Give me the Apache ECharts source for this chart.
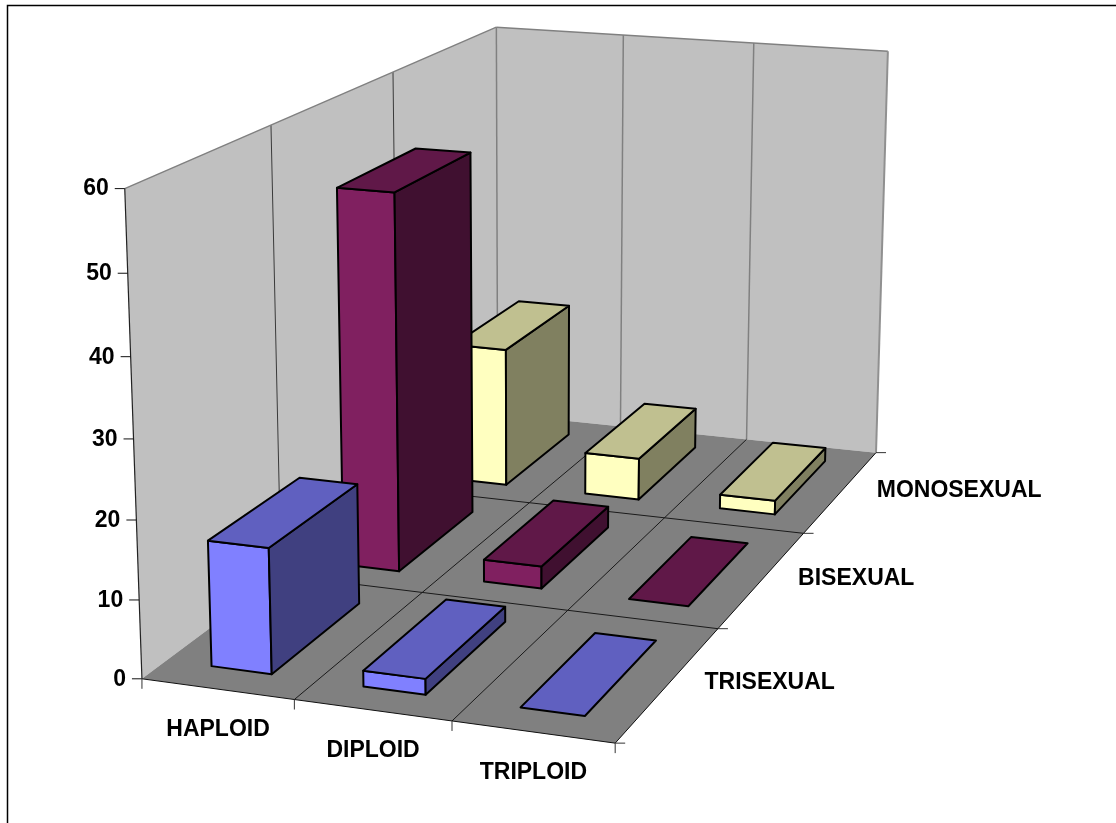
<!DOCTYPE html>
<html>
<head>
<meta charset="utf-8">
<style>html,body{margin:0;padding:0;background:#fff}#chart{width:1116px;height:823px}</style>
<script src="https://cdn.jsdelivr.net/npm/echarts@6/dist/echarts.min.js"></script>
</head>
<body>
<div id="chart"></div>
<script>
// Chart data
const categories = ['HAPLOID', 'DIPLOID', 'TRIPLOID'];
const rows = ['TRISEXUAL', 'BISEXUAL', 'MONOSEXUAL'];
const trisexual = [16, 2, 0];
const bisexual = [51, 3, 0];
const monosexual = [20, 6, 2];
const valueTicks = [0, 10, 20, 30, 40, 50, 60];

// Face colours of each row: front, top, side
const palettes = {
  TRISEXUAL: ['#8080FF', '#6060C0', '#404080'],
  BISEXUAL: ['#802060', '#601848', '#401030'],
  MONOSEXUAL: ['#FFFFC0', '#C0C090', '#808060']
};

// Perspective camera fitted to known places of the chart box:
// [category position, row position, value, screen x, screen y]
const cameraAnchors = [
  [0, 0, 0, 142, 679], [1, 0, 0, 294, 699], [2, 0, 0, 452, 721], [3, 0, 0, 616, 743],
  [3, 1, 0, 717, 629], [3, 2, 0, 804, 533], [3, 3, 0, 876, 453],
  [0, 0, 60, 124, 189], [0, 1, 60, 272, 125], [0, 2, 60, 393, 72], [0, 3, 60, 496, 27],
  [1, 3, 60, 624, 35], [2, 3, 60, 753, 43], [3, 3, 60, 888, 51]
];

function solve(A, b) {
  const n = b.length;
  for (let i = 0; i < n; i++) {
    let p = i;
    for (let r = i + 1; r < n; r++) if (Math.abs(A[r][i]) > Math.abs(A[p][i])) p = r;
    [A[i], A[p]] = [A[p], A[i]];
    [b[i], b[p]] = [b[p], b[i]];
    for (let r = i + 1; r < n; r++) {
      const f = A[r][i] / A[i][i];
      for (let c = i; c < n; c++) A[r][c] -= f * A[i][c];
      b[r] -= f * b[i];
    }
  }
  const x = new Array(n).fill(0);
  for (let i = n - 1; i >= 0; i--) {
    let s = b[i];
    for (let c = i + 1; c < n; c++) s -= A[i][c] * x[c];
    x[i] = s / A[i][i];
  }
  return x;
}

function fitCamera(anchors) {
  const N = Array.from({ length: 11 }, () => new Array(11).fill(0));
  const r = new Array(11).fill(0);
  const add = (row, t) => {
    for (let i = 0; i < 11; i++) {
      r[i] += row[i] * t;
      for (let j = 0; j < 11; j++) N[i][j] += row[i] * row[j];
    }
  };
  anchors.forEach(([x, y, v, u, w]) => {
    const z = v / 20;
    add([x, y, z, 1, 0, 0, 0, 0, -u * x, -u * y, -u * z], u);
    add([0, 0, 0, 0, x, y, z, 1, -w * x, -w * y, -w * z], w);
  });
  return solve(N, r);
}

const cam = fitCamera(cameraAnchors);
function project(x, y, v) {
  const z = v / 20;
  const d = cam[8] * x + cam[9] * y + cam[10] * z + 1;
  return [
    (cam[0] * x + cam[1] * y + cam[2] * z + cam[3]) / d,
    (cam[4] * x + cam[5] * y + cam[6] * z + cam[7]) / d
  ];
}

const maxValue = valueTicks[valueTicks.length - 1];
const nX = categories.length;
const nY = rows.length;
const labelFont = 'bold 23px "Liberation Sans", Arial, sans-serif';

function poly(points, fill, stroke, lineWidth) {
  return { type: 'polygon', shape: { points }, style: { fill, stroke: stroke || null, lineWidth: lineWidth || 0, lineJoin: 'round' } };
}
function seg(a, b, stroke, lineWidth) {
  return { type: 'line', shape: { x1: a[0], y1: a[1], x2: b[0], y2: b[1] }, style: { stroke, lineWidth, fill: null } };
}
function label(text, x, y, align) {
  return {
    type: 'text',
    style: { text, x, y, font: labelFont, fill: '#000', align, verticalAlign: 'middle', textAlign: align, textVerticalAlign: 'middle' }
  };
}

// Walls, floor, dividers, ticks and axis labels
function renderBox() {
  const c = [];
  c.push(poly([project(0, 0, 0), project(0, 0, maxValue), project(0, nY, maxValue), project(0, nY, 0)], '#C0C0C0'));
  c.push(poly([project(0, nY, 0), project(0, nY, maxValue), project(nX, nY, maxValue), project(nX, nY, 0)], '#C0C0C0'));
  c.push(poly([project(0, 0, 0), project(nX, 0, 0), project(nX, nY, 0), project(0, nY, 0)], '#808080'));

  // Divider lines on the walls
  for (let i = 1; i < nY; i++) c.push(seg(project(0, i, 0), project(0, i, maxValue), '#3a3a3a', 1));
  for (let i = 1; i < nX; i++) c.push(seg(project(i, nY, 0), project(i, nY, maxValue), '#808080', 1.5));
  c.push(seg(project(0, nY, 0), project(0, nY, maxValue), '#808080', 1.5));
  // Outline of the walls
  c.push(seg(project(0, 0, maxValue), project(0, nY, maxValue), '#808080', 1.5));
  c.push(seg(project(0, nY, maxValue), project(nX, nY, maxValue), '#808080', 1.5));
  c.push(seg(project(nX, nY, maxValue), project(nX, nY, 0), '#909090', 2));
  c.push(seg(project(0, 0, 0), project(0, 0, maxValue), '#222', 1.2));

  // Divider lines on the floor
  for (let i = 1; i < nX; i++) c.push(seg(project(i, 0, 0), project(i, nY, 0), '#1a1a1a', 1));
  for (let i = 1; i < nY; i++) c.push(seg(project(0, i, 0), project(nX, i, 0), '#1a1a1a', 1));
  c.push(seg(project(0, 0, 0), project(nX, 0, 0), '#111', 1));
  c.push(seg(project(nX, 0, 0), project(nX, nY, 0), '#111', 1));

  // Value axis
  valueTicks.forEach((t) => {
    const p = project(0, 0, t);
    c.push(seg([p[0] - 10, p[1]], p, '#111', 1));
    c.push(label(String(t), p[0] - 16, p[1] + 0.5, 'right'));
  });
  // Category axis
  for (let i = 0; i <= nX; i++) {
    const p = project(i, 0, 0);
    c.push(seg(p, [p[0], p[1] + 10], '#333', 1));
  }
  categories.forEach((name, i) => {
    const p = project(i + 0.5, 0, 0);
    c.push(label(name, p[0] + 0.5, p[1] + 41, 'center'));
  });
  // Row axis
  for (let i = 0; i <= nY; i++) {
    const p = project(nX, i, 0);
    c.push(seg(p, [p[0] + 10, p[1]], '#333', 1));
  }
  rows.forEach((name, i) => {
    const p = project(nX, i + 0.5, 0);
    c.push(label(name, p[0] + 35.5, p[1] - 0.5, 'left'));
  });
  return { type: 'group', children: c };
}

// One box of a row: gaps follow a 150% gap width and a 50% gap depth
const barWidth = 0.4;
const barDepth = 2 / 3;
function barRenderer(rowIndex, colours) {
  return function (params, api) {
    const cx = api.value(0);
    const v = api.value(1);
    const x0 = cx + (1 - barWidth) / 2;
    const x1 = x0 + barWidth;
    const y0 = rowIndex + (1 - barDepth) / 2;
    const y1 = y0 + barDepth;
    const s = { stroke: '#000', lw: 2 };
    const kids = [];
    if (v > 0) {
      kids.push(poly([project(x0, y0, 0), project(x1, y0, 0), project(x1, y0, v), project(x0, y0, v)], colours[0], s.stroke, s.lw));
      kids.push(poly([project(x1, y0, 0), project(x1, y1, 0), project(x1, y1, v), project(x1, y0, v)], colours[2], s.stroke, s.lw));
    }
    kids.push(poly([project(x0, y0, v), project(x1, y0, v), project(x1, y1, v), project(x0, y1, v)], colours[1], s.stroke, s.lw));
    return { type: 'group', children: kids };
  };
}

function barSeries(name, values, rowIndex) {
  return {
    type: 'custom',
    name,
    coordinateSystem: 'none',
    renderItem: barRenderer(rowIndex, palettes[name]),
    data: values.map((v, i) => [i, v]),
    silent: true
  };
}

const chart = echarts.init(document.getElementById('chart'), null, { renderer: 'canvas' });
chart.setOption({
  animation: false,
  backgroundColor: '#fff',
  graphic: [{
    type: 'rect',
    shape: { x: 7.5, y: 5.5, width: 1200, height: 900 },
    style: { fill: null, stroke: '#000', lineWidth: 1.5 },
    silent: true
  }],
  series: [
    { type: 'custom', name: 'box', coordinateSystem: 'none', renderItem: renderBox, data: [[0]], silent: true },
    barSeries('MONOSEXUAL', monosexual, 2),
    barSeries('BISEXUAL', bisexual, 1),
    barSeries('TRISEXUAL', trisexual, 0)
  ]
});
</script>
</body>
</html>
